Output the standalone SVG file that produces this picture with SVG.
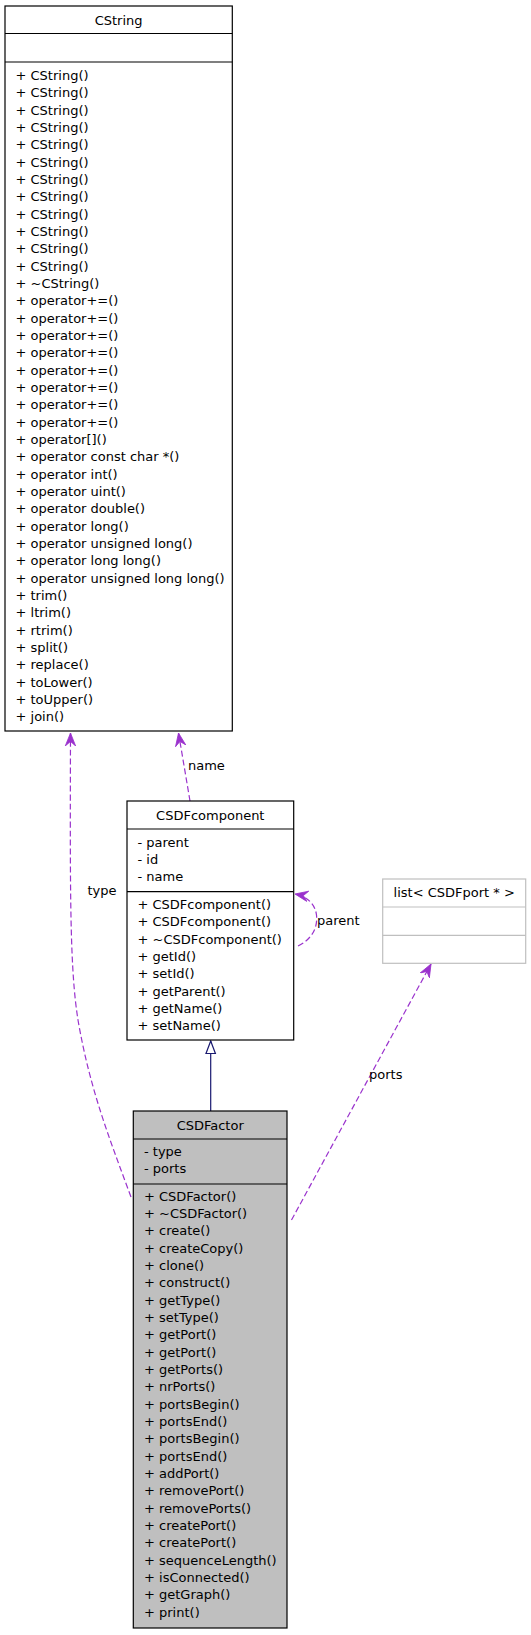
<svg xmlns="http://www.w3.org/2000/svg" width="531" height="1635" viewBox="0 0 531 1635">
<style>
text{font-family:"DejaVu Sans","Liberation Sans",sans-serif;font-size:13px;fill:#000}
.t{text-anchor:middle}
.box{fill:#fff;stroke:#000;stroke-width:1.2}
.sel{fill:#bfbfbf;stroke:#000;stroke-width:1.2}
.ln{stroke:#000;stroke-width:1.2}
.gbox{fill:#fff;stroke:#bfbfbf;stroke-width:1.2}
.gln{stroke:#bfbfbf;stroke-width:1.2}
.use{fill:none;stroke:#9a32cd;stroke-width:1.2;stroke-dasharray:6,3}
.inh{fill:none;stroke:#191970;stroke-width:1.2}
</style>
<defs>
<marker id="vee" markerUnits="userSpaceOnUse" markerWidth="14" markerHeight="12" viewBox="0 0 14 12" refX="13" refY="6" orient="auto">
<path d="M13,6 L0,0.8 L4.5,6 L0,11.2 Z" fill="#9a32cd" stroke="#9a32cd" stroke-width="0.8"/>
</marker>
<marker id="tri" markerUnits="userSpaceOnUse" markerWidth="16" markerHeight="12" viewBox="0 0 16 12" refX="14" refY="6" orient="auto">
<path d="M14,6 L1.5,1.3 L1.5,10.7 Z" fill="#fff" stroke="#191970" stroke-width="1.2"/>
</marker>
</defs>

<g id="connectors">
<path class="use" d="M131,1197 C110,1140 90,1090 78,1020 C70,970 70,900 70.5,733" marker-end="url(#vee)"/>
<path class="use" d="M190,801 L178.5,733" marker-end="url(#vee)"/>
<path class="use" d="M298,946 C310,940 318,930 316.5,915 C315,903 306,896 295,894" marker-end="url(#vee)"/>
<path class="use" d="M291.5,1220 L431,964" marker-end="url(#vee)"/>
<path class="inh" d="M210.7,1111 L210.7,1041" marker-end="url(#tri)"/>
<text x="87.5" y="895">type</text>
<text x="188" y="770">name</text>
<text x="317" y="925">parent</text>
<text x="369" y="1079">ports</text>
</g>

<g id="CString">
<rect class="box" x="5" y="6" width="227.3" height="725"/>
<line class="ln" x1="5" y1="33.5" x2="232.3" y2="33.5"/>
<line class="ln" x1="5" y1="62" x2="232.3" y2="62"/>
<text class="t" x="118.6" y="24.5">CString</text>
<text x="15.5" y="80">+ CString()</text>
<text x="15.5" y="97.33">+ CString()</text>
<text x="15.5" y="114.67">+ CString()</text>
<text x="15.5" y="132">+ CString()</text>
<text x="15.5" y="149.33">+ CString()</text>
<text x="15.5" y="166.67">+ CString()</text>
<text x="15.5" y="184">+ CString()</text>
<text x="15.5" y="201.33">+ CString()</text>
<text x="15.5" y="218.67">+ CString()</text>
<text x="15.5" y="236">+ CString()</text>
<text x="15.5" y="253.33">+ CString()</text>
<text x="15.5" y="270.67">+ CString()</text>
<text x="15.5" y="288">+ ~CString()</text>
<text x="15.5" y="305.33">+ operator+=()</text>
<text x="15.5" y="322.67">+ operator+=()</text>
<text x="15.5" y="340">+ operator+=()</text>
<text x="15.5" y="357.33">+ operator+=()</text>
<text x="15.5" y="374.67">+ operator+=()</text>
<text x="15.5" y="392">+ operator+=()</text>
<text x="15.5" y="409.33">+ operator+=()</text>
<text x="15.5" y="426.67">+ operator+=()</text>
<text x="15.5" y="444">+ operator[]()</text>
<text x="15.5" y="461.33">+ operator const char *()</text>
<text x="15.5" y="478.67">+ operator int()</text>
<text x="15.5" y="496">+ operator uint()</text>
<text x="15.5" y="513.33">+ operator double()</text>
<text x="15.5" y="530.67">+ operator long()</text>
<text x="15.5" y="548">+ operator unsigned long()</text>
<text x="15.5" y="565.33">+ operator long long()</text>
<text x="15.5" y="582.67">+ operator unsigned long long()</text>
<text x="15.5" y="600">+ trim()</text>
<text x="15.5" y="617.33">+ ltrim()</text>
<text x="15.5" y="634.67">+ rtrim()</text>
<text x="15.5" y="652">+ split()</text>
<text x="15.5" y="669.33">+ replace()</text>
<text x="15.5" y="686.67">+ toLower()</text>
<text x="15.5" y="704">+ toUpper()</text>
<text x="15.5" y="721.33">+ join()</text>
</g>

<g id="CSDFcomponent">
<rect class="box" x="127" y="801" width="166.7" height="239"/>
<line class="ln" x1="127" y1="829" x2="293.7" y2="829"/>
<line class="ln" x1="127" y1="891.7" x2="293.7" y2="891.7"/>
<text class="t" x="210.3" y="819.5">CSDFcomponent</text>
<text x="137.5" y="846.5">- parent</text>
<text x="137.5" y="863.8">- id</text>
<text x="137.5" y="881.2">- name</text>
<text x="137.5" y="909">+ CSDFcomponent()</text>
<text x="137.5" y="926.33">+ CSDFcomponent()</text>
<text x="137.5" y="943.67">+ ~CSDFcomponent()</text>
<text x="137.5" y="961">+ getId()</text>
<text x="137.5" y="978.33">+ setId()</text>
<text x="137.5" y="995.67">+ getParent()</text>
<text x="137.5" y="1013">+ getName()</text>
<text x="137.5" y="1030.33">+ setName()</text>
</g>

<g id="listCSDFport">
<rect class="gbox" x="382.7" y="879" width="143" height="84.3"/>
<line class="gln" x1="382.7" y1="907" x2="525.7" y2="907"/>
<line class="gln" x1="382.7" y1="935.3" x2="525.7" y2="935.3"/>
<text class="t" x="454.2" y="896.5">list&lt; CSDFport * &gt;</text>
</g>

<g id="CSDFactor">
<rect class="sel" x="133.3" y="1111" width="153.7" height="517"/>
<line class="ln" x1="133.3" y1="1139" x2="287" y2="1139"/>
<line class="ln" x1="133.3" y1="1184" x2="287" y2="1184"/>
<text class="t" x="210.2" y="1129.5">CSDFactor</text>
<text x="144" y="1156">- type</text>
<text x="144" y="1173.3">- ports</text>
<text x="144" y="1200.5">+ CSDFactor()</text>
<text x="144" y="1217.83">+ ~CSDFactor()</text>
<text x="144" y="1235.17">+ create()</text>
<text x="144" y="1252.5">+ createCopy()</text>
<text x="144" y="1269.83">+ clone()</text>
<text x="144" y="1287.17">+ construct()</text>
<text x="144" y="1304.5">+ getType()</text>
<text x="144" y="1321.83">+ setType()</text>
<text x="144" y="1339.17">+ getPort()</text>
<text x="144" y="1356.5">+ getPort()</text>
<text x="144" y="1373.83">+ getPorts()</text>
<text x="144" y="1391.17">+ nrPorts()</text>
<text x="144" y="1408.5">+ portsBegin()</text>
<text x="144" y="1425.83">+ portsEnd()</text>
<text x="144" y="1443.17">+ portsBegin()</text>
<text x="144" y="1460.5">+ portsEnd()</text>
<text x="144" y="1477.83">+ addPort()</text>
<text x="144" y="1495.17">+ removePort()</text>
<text x="144" y="1512.5">+ removePorts()</text>
<text x="144" y="1529.83">+ createPort()</text>
<text x="144" y="1547.17">+ createPort()</text>
<text x="144" y="1564.5">+ sequenceLength()</text>
<text x="144" y="1581.83">+ isConnected()</text>
<text x="144" y="1599.17">+ getGraph()</text>
<text x="144" y="1616.5">+ print()</text>
</g>
</svg>
